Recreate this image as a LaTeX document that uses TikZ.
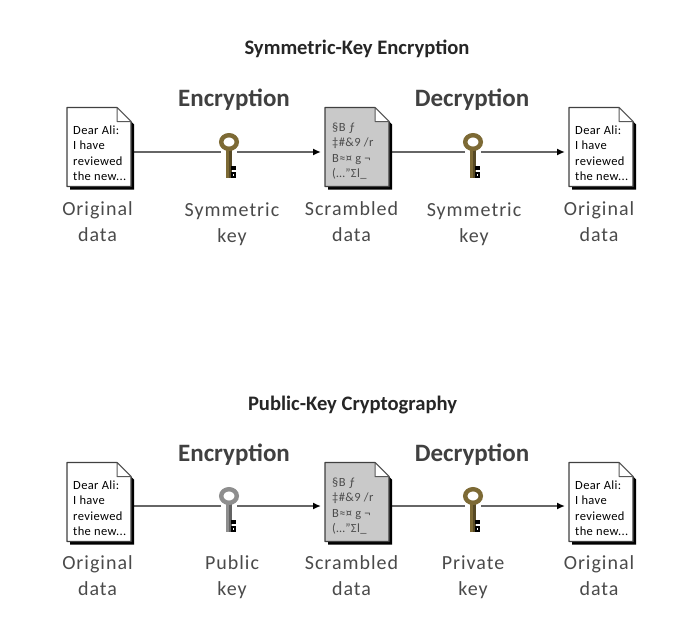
\documentclass[tikz,border=0pt]{standalone}
\usepackage{fontspec}
\setmainfont{Carlito}
\usetikzlibrary{arrows.meta,calc}
\definecolor{goldk}{HTML}{7D6A35}
\definecolor{silverk}{HTML}{8E8E8E}
\definecolor{labelc}{HTML}{4A4A4A}
\definecolor{scr}{HTML}{C9C9C9}
\tikzset{
  x=1pt,y=-1pt,
  docbox/.style={minimum width=64pt,minimum height=79pt,inner sep=0pt,outer sep=0pt},
  keybox/.style={minimum width=16pt,minimum height=6pt,inner sep=0pt,outer sep=0pt},
  doctext/.style={font=\fontsize{12.5}{15.5}\selectfont\addfontfeature{LetterSpace=3},align=left,text=black,inner sep=0pt,anchor=west},
  scrtext/.style={doctext,text=black!70},
  lbl/.style={font=\fontsize{20}{26}\selectfont\addfontfeature{LetterSpace=5},align=center,text=labelc,inner sep=0pt,text width=110pt},
  head/.style={font=\fontsize{25}{28}\selectfont\bfseries,text=black!75,inner sep=0pt},
  ttl/.style={font=\fontsize{20.6}{24}\selectfont\bfseries,text=black!85,inner sep=0pt},
  conn/.style={draw=black!60,line width=1.6pt},
  connarrow/.style={conn,-{Latex[length=8pt,width=7pt,black]}},
}
\newcommand{\pagepath}[2]{($(#1.north west)+(#2)$) -- ($(#1.north east)+(-14,0)+(#2)$) -- ($(#1.north east)+(0,14)+(#2)$)
    -- ($(#1.south east)+(#2)$) -- ($(#1.south west)+(#2)$) -- cycle}
\newcommand{\pageshape}[2]{%
  \fill[black] \pagepath{#1}{3,3};
  \draw[black!75,line width=1.2pt,fill=#2,line join=round] \pagepath{#1}{0,0};
  \draw[black!65,line width=1pt,fill=white,line join=round]
    ($(#1.north east)+(-14,0)$) -- ($(#1.north east)+(-14,14)$) -- ($(#1.north east)+(0,14)$) -- cycle;
}
\newcommand{\letter}[1]{%
  \pageshape{#1}{white}
  \node[doctext] at ($(#1.west)+(6,6)$) {Dear Ali:\\I have\\reviewed\\the new...};
}
\newcommand{\scrambled}[1]{%
  \pageshape{#1}{scr}
  \node[scrtext] at ($(#1.west)+(7,4)$) {§B ƒ\\‡\#\&9 /r\\B≈¤ g ¬\\(…''Σl\_};
}
\newcommand{\keyshape}[2]{%
  \begin{scope}[shift={(#1)}]
    \fill[#2] (-2.6,-4) rectangle (2.6,26);
    \fill[#2!70!black] (0.3,-4) rectangle (2.6,26);
    \fill[black] (2,14) rectangle (7,18);
    \fill[black] (2,20) rectangle (7,26);
    \fill[white] (3.5,21.5) rectangle (5,23.5);
    \draw[#2,line width=4.4pt,fill=white] (0,-10) ellipse (7.8 and 6.8);
  \end{scope}
}
\begin{document}
\begin{tikzpicture}
\useasboundingbox (0,0) rectangle (687,626);
% top row
\node[ttl] (t1) at (357,49) {Symmetric-Key Encryption};
\node[head] (e1) at (234,100) {Encryption};
\node[head] (f1) at (472,100) {Decryption};
\node[docbox] (a1) at (99,147) {};
\node[docbox] (b1) at (357,147) {};
\node[docbox] (c1) at (601,147) {};
\node[keybox] (k1) at (229,152) {};
\node[keybox] (m1) at (473,152) {};
\draw[conn] (a1.east |- k1) -- (k1);
\draw[connarrow] (k1) -- ($(b1.west |- k1)+(-4,0)$);
\draw[conn] (b1.east |- m1) -- (m1);
\draw[connarrow] (m1) -- ($(c1.west |- m1)+(-4,0)$);
\letter{a1}\scrambled{b1}\letter{c1}
\keyshape{k1}{goldk}\keyshape{m1}{goldk}
\node[lbl] at (97.5,222) {Original\\data};
\node[lbl] at (232,224) {Symmetric\\key};
\node[lbl] at (351.5,222) {Scrambled\\data};
\node[lbl] at (474,224) {Symmetric\\key};
\node[lbl] at (599,222) {Original\\data};
% bottom row
\node[ttl] (t2) at (352.5,405) {Public-Key Cryptography};
\node[head] (e2) at (234,455) {Encryption};
\node[head] (f2) at (472,455) {Decryption};
\node[docbox] (a2) at (99,502) {};
\node[docbox] (b2) at (357,502) {};
\node[docbox] (c2) at (601,502) {};
\node[keybox] (k2) at (229,506) {};
\node[keybox] (m2) at (473,506) {};
\draw[conn] (a2.east |- k2) -- (k2);
\draw[connarrow] (k2) -- ($(b2.west |- k2)+(-4,0)$);
\draw[conn] (b2.east |- m2) -- (m2);
\draw[connarrow] (m2) -- ($(c2.west |- m2)+(-4,0)$);
\letter{a2}\scrambled{b2}\letter{c2}
\keyshape{k2}{silverk}\keyshape{m2}{goldk}
\node[lbl] at (97.5,576) {Original\\data};
\node[lbl] at (232,577) {Public\\key};
\node[lbl] at (351.5,576) {Scrambled\\data};
\node[lbl] at (473,577) {Private\\key};
\node[lbl] at (599,576) {Original\\data};
\end{tikzpicture}
\end{document}
